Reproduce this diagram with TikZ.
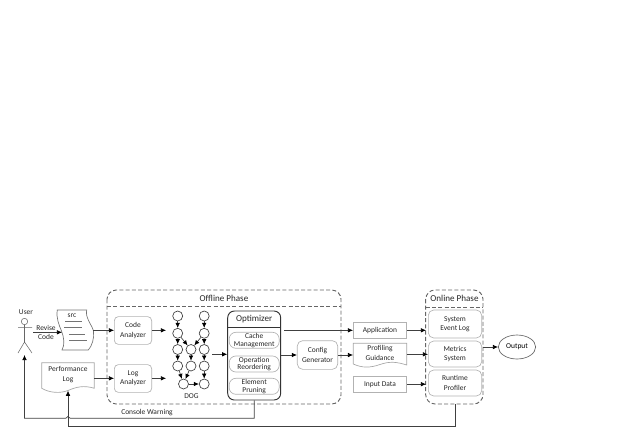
\documentclass[tikz,border=0pt]{standalone}
\usepackage{fontspec}
\setmainfont{Carlito}
\usetikzlibrary{arrows.meta,calc,shapes.geometric}
\tikzset{
 x=0.75pt,y=-0.75pt,
 lbl/.style={font=\fontsize{5.6}{7}\selectfont,align=center,text=black!85,inner sep=0pt},
 ttl/.style={font=\fontsize{6.8}{8}\selectfont,align=center,text=black!85,inner sep=0pt},
 gbox/.style={draw=black!30,line width=0.5pt,align=center,font=\fontsize{5.6}{7}\selectfont,text=black!85,inner sep=0pt},
 tbox/.style={gbox,font=\fontsize{5.6}{5.8}\selectfont,rounded corners=5pt,minimum width=37.5pt,minimum height=12pt},
 dn/.style={draw=black!75,line width=0.5pt,circle,minimum size=7.5pt,inner sep=0pt,fill=white},
 arr/.style={draw=black!75,line width=0.5pt,-{Latex[length=3.8pt,width=3.4pt,black]}},
 dsh/.style={draw=black!60,line width=0.7pt,dash pattern=on 3pt off 1.7pt},
 docln/.style={draw=black!55,line width=0.5pt},
}
\begin{document}
\begin{tikzpicture}
\useasboundingbox (0,0) rectangle (632,447);
% user
\node[lbl] (user) at (26,312) {User};
\draw[black!60,line width=0.4pt] (24.5,321.5) circle (2.4pt);
\draw[black!60,line width=0.4pt] (24.5,325)--(24.5,342) (18,327.7)--(32,327.7) (24.5,342)--(18,353) (24.5,342)--(32,353);
\coordinate (ubody) at (24.5,355);
\node[lbl] (rev) at (46,332.3) {Revise\\Code};
% src doc
\node[lbl] (src) at (72,316) {src};
\draw[docln] (57.3,310) -- (86.7,310)
 .. controls (85,318) and (92,325) .. (93.5,331) .. controls (94.5,338) and (92,346) .. (88.3,350)
 -- (62,350) .. controls (65,345) and (64,337) .. (61.5,331) .. controls (59,325) and (56,318) .. (57.3,310) -- cycle;
\draw[docln] (65,321)--(81.7,321) (64.3,327.7)--(81.7,327.7) (69.3,334)--(85,334) (69.3,340.3)--(87.3,340.3);
\coordinate (srcw) at (62,332.3);
\coordinate (srce) at (93,330.3);
\coordinate (uarm) at (33,332.3);
\draw[arr] (uarm)--(srcw);
% perf log
\node[gbox,draw=none] (perf) at (68,374.5) {Performance\\Log};
\draw[black!35,line width=0.5pt] (41.7,362.7) -- (94.3,362.7) -- (94.3,388.3) .. controls (84,385) and (76,387) .. (68,390.5) .. controls (60,393.5) and (50,393) .. (41.7,388.3) -- cycle;
% offline
\draw[dsh,rounded corners=7pt] (107,290) rectangle (341,404);
\draw[dsh] (107,306)--(341,306);
\node[ttl] (off) at (224,298.3) {Offline Phase};
\node[gbox,rounded corners=3pt,minimum width=28pt,minimum height=20.8pt] (ca) at (133,330.5) {Code\\Analyzer};
\node[gbox,rounded corners=3pt,minimum width=28pt,minimum height=20.8pt] (la) at (133,378.5) {Log\\Analyzer};
\coordinate (le) at (94.3,378.3);
\draw[arr] (srce)--(ca.west|-srce);
\draw[arr] (le)--(la.west|-le);
\coordinate (cao) at (166,330.3);
\coordinate (lao) at (166,378.3);
\draw[arr] (ca.east|-cao)--(cao);
\draw[arr] (la.east|-lao)--(lao);
% DOG
\node[dn] (d1) at (177.7,316) {};
\node[dn] (d2) at (204.2,316) {};
\node[dn] (r1) at (177.7,333.3) {};
\node[dn] (r2) at (204.2,333.3) {};
\node[dn] (d3) at (177.7,349.5) {};
\node[dn] (d4) at (191,349.5) {};
\node[dn] (d5) at (204.2,349.5) {};
\node[dn] (d6) at (177.7,366) {};
\node[dn] (d7) at (191,366) {};
\node[dn] (d8) at (204.2,366) {};
\node[dn] (d9) at (183.5,384) {};
\node[dn] (d10) at (204.2,384) {};
\node[lbl] (dog) at (191.5,396) {DOG};
\foreach \a/\b in {d1/r1,d2/r2,r1/d3,r1/d4,r2/d5,r2/d4,d3/d6,d4/d7,d5/d8,d6/d9,d7/d9,d8/d10,d9/d10}
  \draw[arr] (\a)--(\b);
% optimizer
\node[draw=black!80,line width=0.7pt,rounded corners=5pt,minimum width=39.75pt,minimum height=66.75pt] (opt) at (254.2,355.5) {};
\draw[black!80,line width=0.6pt] (opt.west|-0,327.7)--(opt.east|-0,327.7);
\node[ttl] (optt) at (254.2,319) {Optimizer};
\node[tbox] (cm) at (254.2,340.3) {Cache\\Management};
\node[tbox] (or) at (254.2,364) {Operation\\Reordering};
\node[tbox] (ep) at (254.2,386.3) {Element\\Pruning};
\coordinate (doge) at (212,354.3);
\draw[arr] (doge)--(opt.west|-doge);
% config
\node[gbox,rounded corners=4pt,minimum width=30.3pt,minimum height=21.5pt] (cfg) at (317.5,355) {Config\\Generator};
\draw[arr] (opt.east|-cfg)--(cfg.west);
% right
\node[gbox,minimum width=40pt,minimum height=12pt] (app) at (380,330.3) {Application};
\node[gbox,draw=none,minimum width=40pt] (pg) at (380,352.8) {Profiling\\Guidance};
\draw[black!35,line width=0.5pt] (353.3,343.3) -- (406.7,343.3) -- (406.7,365) .. controls (397,362) and (390,361) .. (380,364.5) .. controls (370,368) and (362,368) .. (353.3,364) -- cycle;
\node[gbox,minimum width=40pt,minimum height=12pt] (inp) at (380,384.2) {Input Data};
\coordinate (ot) at (284,330.3);
\draw[arr] (ot)--(app.west);
\coordinate (pgw) at (353,355);
\draw[arr] (cfg.east)--(pgw);
% online
\draw[dsh,rounded corners=7pt] (425.7,290) rectangle (483,404);
\draw[dsh] (425.7,307.7)--(483,307.7);
\node[ttl] (on) at (454.5,298.3) {Online Phase};
\node[gbox,rounded corners=4pt,minimum width=40pt,minimum height=21pt] (sys) at (455,324) {System\\Event Log};
\node[gbox,rounded corners=4pt,minimum width=40pt,minimum height=19.5pt] (met) at (455,354) {Metrics\\System};
\node[gbox,rounded corners=4pt,minimum width=40pt,minimum height=19.5pt] (rp) at (455,383) {Runtime\\Profiler};
\coordinate (i1) at (426,330.3);
\coordinate (i3) at (426,384.2);
\draw[arr] (app.east)--(i1);
\coordinate (pge) at (406.7,354.3);
\draw[arr] (pge)--(met.west|-pge);
\draw[arr] (inp.east)--(i3);
\node[draw=black!60,line width=0.5pt,ellipse,minimum width=28pt,minimum height=18pt,inner sep=0pt,font=\fontsize{5.6}{7}\selectfont] (out) at (517,347) {Output};
\coordinate (oe) at (483,347);
\draw[arr] (oe)--(out);
% feedback
\node[lbl] (cw) at (147,413) {Console Warning};
\coordinate (op) at (254.2,418.3);
\coordinate (hr) at (70.2,418.3);
\coordinate (hl) at (65.8,418.3);
\draw[arr] (opt.south) -- (op) -- (hr) .. controls (69.5,415.8) and (66.5,415.8) .. (hl) -- (24.5,418.3) -- (ubody);
\coordinate (onb) at (455,404);
\coordinate (pfb) at (68,390.7);
\draw[arr] (onb) -- (455,426.7) -- (68,426.7) -- (pfb);
\end{tikzpicture}
\end{document}
